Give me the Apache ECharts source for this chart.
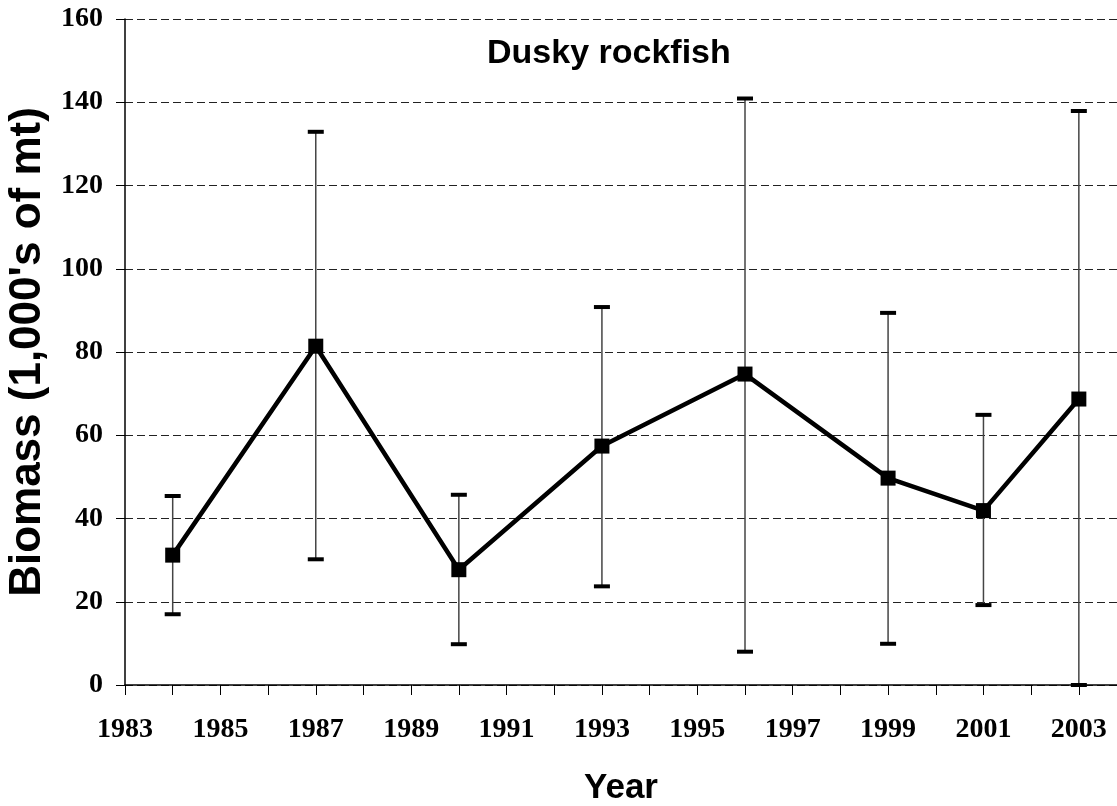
<!DOCTYPE html>
<html>
<head>
<meta charset="utf-8">
<script src="https://cdn.jsdelivr.net/npm/echarts@6/dist/echarts.min.js"></script>
<style>
  html, body { margin: 0; padding: 0; background: #fff; }
  #chart { width: 1117px; height: 806px; }
</style>
</head>
<body>
<div id="chart"></div>
<script>
// survey years and biomass estimates (1,000's of mt)
const years = [1984, 1987, 1990, 1993, 1996, 1999, 2001, 2003];
const biomass = [31.2, 81.4, 27.7, 57.4, 74.7, 49.7, 41.9, 68.7];
// confidence interval bounds
const lower = [17.0, 30.2, 9.8, 23.7, 8.0, 9.9, 19.2, 0];
const upper = [45.4, 132.9, 45.7, 90.8, 140.9, 89.4, 64.9, 137.9];
const yTicks = [0, 20, 40, 60, 80, 100, 120, 140, 160];

const myChart = echarts.init(document.getElementById('chart'));

const sans = 'Liberation Sans, Arial, sans-serif';
const serif = 'Liberation Serif, Times New Roman, serif';

const option = {
  animation: false,
  title: {
    text: 'Dusky rockfish',
    left: 482,
    top: 32,
    textStyle: { fontFamily: sans, fontSize: 34, fontWeight: 'bold', color: '#000' }
  },
  grid: { left: 125, right: 0, top: 19, bottom: 121, outerBoundsMode: 'none', containLabel: false },
  xAxis: {
    type: 'value',
    min: 1983,
    max: 2003.8,
    interval: 1,
    name: 'Year',
    nameLocation: 'middle',
    nameGap: 86,
    nameTextStyle: { fontFamily: sans, fontSize: 35, fontWeight: 'bold', color: '#000' },
    axisLine: { lineStyle: { color: '#000', width: 1.5 } },
    axisTick: { show: true, length: 10, lineStyle: { color: '#000', width: 1 } },
    axisLabel: {
      margin: 31,
      fontFamily: serif,
      fontSize: 28,
      fontWeight: 'bold',
      color: '#000',
      showMaxLabel: false,
      formatter: function (v) {
        if (Math.abs(v - Math.round(v)) > 1e-6) return '';
        return (Math.round(v) - 1983) % 2 === 0 ? String(Math.round(v)) : '';
      }
    },
    splitLine: { show: false }
  },
  yAxis: {
    type: 'value',
    min: yTicks[0],
    max: yTicks[yTicks.length - 1],
    interval: 20,
    name: "Biomass (1,000's of mt)",
    nameLocation: 'middle',
    nameGap: 73,
    nameTextStyle: { fontFamily: sans, fontSize: 44, fontWeight: 'bold', color: '#000' },
    axisLine: { show: true, lineStyle: { color: '#000', width: 1.5 } },
    axisTick: { show: true, length: 9, lineStyle: { color: '#000', width: 1 } },
    axisLabel: {
      margin: 22,
      fontFamily: serif,
      fontSize: 28,
      fontWeight: 'bold',
      color: '#000'
    },
    splitLine: { show: true, lineStyle: { color: '#222', width: 1, type: [8, 4] } }
  },
  series: [
    {
      type: 'custom',
      name: 'ci',
      z: 2,
      data: years.map((y, i) => [y, lower[i], upper[i]]),
      encode: { x: 0, y: [1, 2] },
      renderItem: function (params, api) {
        const x = api.value(0);
        const lo = api.coord([x, api.value(1)]);
        const hi = api.coord([x, api.value(2)]);
        const capW = 16, capH = 4;
        return {
          type: 'group',
          children: [
            { type: 'line', shape: { x1: lo[0], y1: lo[1], x2: hi[0], y2: hi[1] },
              style: { stroke: '#444', lineWidth: 1.5 } },
            { type: 'rect', shape: { x: hi[0] - capW / 2, y: hi[1] - capH / 2, width: capW, height: capH },
              style: { fill: '#000' } },
            { type: 'rect', shape: { x: lo[0] - capW / 2, y: lo[1] - capH / 2, width: capW, height: capH },
              style: { fill: '#000' } }
          ]
        };
      }
    },
    {
      type: 'line',
      name: 'Biomass',
      z: 3,
      data: years.map((y, i) => [y, biomass[i]]),
      symbol: 'rect',
      symbolSize: 15,
      lineStyle: { color: '#000', width: 4.5 },
      itemStyle: { color: '#000' }
    }
  ]
};

option && myChart.setOption(option);
</script>
</body>
</html>
